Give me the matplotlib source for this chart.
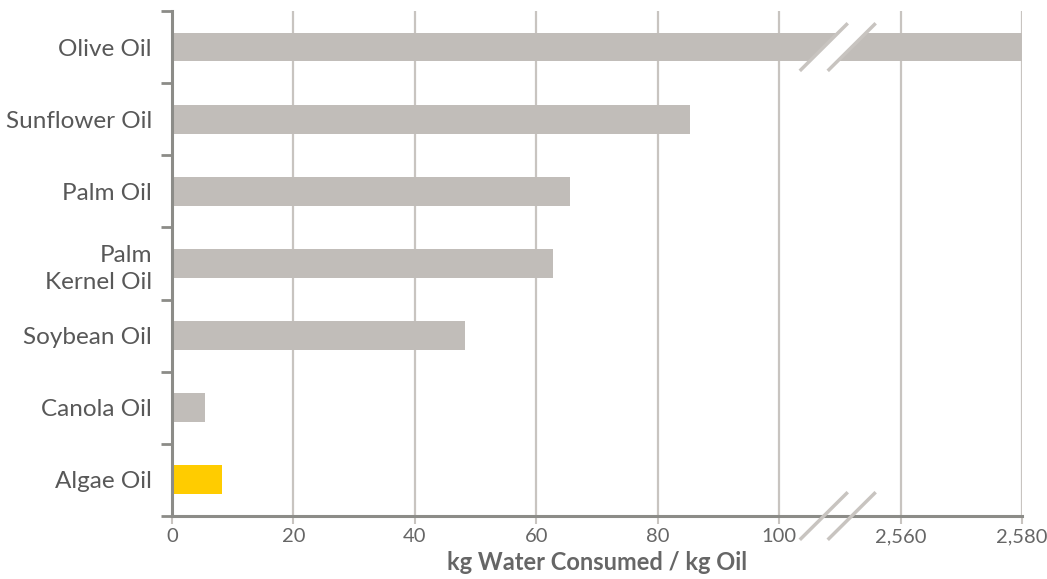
import matplotlib
matplotlib.use("Agg")
import matplotlib.pyplot as plt
import numpy as np

# Data (top to bottom)
oils = ["Olive Oil", "Sunflower Oil", "Palm Oil", "Palm\nKernel Oil",
        "Soybean Oil", "Canola Oil", "Algae Oil"]
water = [2580, 85.3, 65.5, 62.8, 48.3, 5.4, 8.3]
tick_values = [0, 20, 40, 60, 80, 100, 2560, 2580]
tick_labels = ["0", "20", "40", "60", "80", "100", "2,560", "2,580"]

GREY_BAR = "#c1bdb9"
YELLOW = "#ffcc00"
GRID = "#c8c4c0"
SPINE = "#8c8c88"
TEXT = "#666666"

plt.rcParams["font.family"] = ["Lato", "DejaVu Sans"]


def to_axis(v):
    # broken axis: 0-100 linear, then jump so 2560 sits at 120
    return v if v <= 100 else 120 + (v - 2560)


fig = plt.figure(figsize=(10.47, 5.79), dpi=100)
ax = fig.add_axes([172 / 1047, 1 - 516 / 579, 850 / 1047, 505 / 579])

y = np.arange(len(oils))
colors = [YELLOW if o == "Algae Oil" else GREY_BAR for o in oils]
ax.barh(y, [to_axis(v) for v in water], height=0.4, color=colors, zorder=2)

ax.set_xlim(0, 140)
ax.set_ylim(len(oils) - 0.5, -0.5)

# gridlines
for t in tick_values[1:]:
    ax.axvline(to_axis(t), color=GRID, lw=1.6, zorder=1)

ax.set_xticks([to_axis(t) for t in tick_values])
ax.set_xticklabels(tick_labels)
ax.tick_params(axis="x", length=6, width=1.5, color=GRID, labelsize=14.5,
               labelcolor=TEXT, pad=3)

# y: ticks on boundaries, labels at centres
ax.set_yticks(np.arange(-0.5, len(oils)), minor=False)
ax.set_yticklabels([])
ax.set_yticks(y, minor=True)
ax.set_yticklabels(oils, minor=True)
ax.tick_params(axis="y", which="major", length=8, width=2, color=SPINE)
ax.tick_params(axis="y", which="minor", length=0, labelsize=17.5,
               labelcolor="#585858", pad=14.5)
for lab in ax.get_yticklabels(minor=True):
    lab.set_horizontalalignment("right")
    lab.set_multialignment("right")
    lab.set_linespacing(1.4)

for s in ["top", "right"]:
    ax.spines[s].set_visible(False)
for s in ["left", "bottom"]:
    ax.spines[s].set_color(SPINE)
    ax.spines[s].set_linewidth(2.2)
ax.spines["left"].set_zorder(4)

ax.set_xlabel("kg Water Consumed / kg Oil", fontsize=17, fontweight="bold",
              color=TEXT, labelpad=4)

# axis break marks on the olive bar and on the x axis
bx1, bx2, shift = 103.4, 111.3, 4.6
for yc, half in [(0, 0.33), (len(oils) - 0.5, 0.33)]:
    if yc == 0:
        poly = plt.Polygon([(bx1, yc + half), (bx2, yc - half),
                            (bx2 + shift, yc - half), (bx1 + shift, yc + half)],
                           closed=True, color="white", zorder=3)
        ax.add_patch(poly)
    for dx in (0, shift):
        ax.plot([bx1 + dx, bx2 + dx], [yc + half, yc - half], color=GRID,
                lw=2.5, solid_capstyle="butt", zorder=5, clip_on=False)

fig.savefig("out.png", dpi=100, facecolor="white")
